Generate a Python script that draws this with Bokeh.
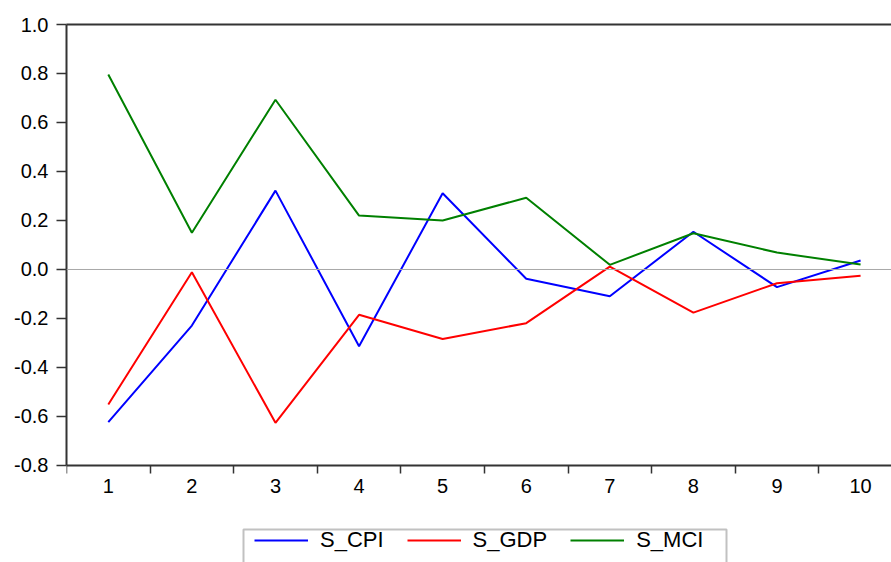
from bokeh.plotting import figure
from bokeh.models import (Range1d, FixedTicker, LinearAxis, Span, Legend, LegendItem,
                          CustomJSTickFormatter, BoxAnnotation)
from bokeh.embed import file_html
from bokeh.resources import INLINE

periods = [1, 2, 3, 4, 5, 6, 7, 8, 9, 10]
s_cpi = [-0.623, -0.229, 0.322, -0.313, 0.311, -0.038, -0.109, 0.154, -0.072, 0.037]
s_gdp = [-0.551, -0.011, -0.626, -0.185, -0.284, -0.219, 0.012, -0.176, -0.056, -0.026]
s_mci = [0.796, 0.150, 0.693, 0.220, 0.200, 0.293, 0.019, 0.148, 0.069, 0.020]
y_ticks = [-0.8, -0.6, -0.4, -0.2, 0.0, 0.2, 0.4, 0.6, 0.8, 1.0]
series_names = ["S_CPI", "S_GDP", "S_MCI"]
colors = ["#0000FF", "#FF0000", "#008000"]

FONT = "Liberation Sans"
AXIS_COLOR = "#333333"
Y_MIN, Y_MAX = -0.8, 1.0

p = figure(width=891, height=562, output_backend="svg", toolbar_location=None,
           x_range=Range1d(0.5, 10.37), y_range=Range1d(-1.196, Y_MAX),
           min_border_left=66, min_border_right=0, min_border_top=24,
           min_border_bottom=0, x_axis_location="below")
p.outline_line_color = None
p.background_fill_color = "white"
p.border_fill_color = "white"
p.xgrid.visible = False
p.ygrid.visible = False

# x axis, drawn at the bottom of the value range
xa = p.xaxis[0]
xa.fixed_location = Y_MIN
xa.ticker = FixedTicker(ticks=periods, minor_ticks=[x + 0.5 for x in [0] + periods])
xa.major_tick_out = 0
xa.major_tick_in = 0
xa.minor_tick_out = 8
xa.minor_tick_in = 0
xa.minor_tick_line_color = AXIS_COLOR
xa.minor_tick_line_width = 1.5
xa.axis_line_color = AXIS_COLOR
xa.axis_line_width = 2
xa.major_label_text_font = FONT
xa.major_label_text_font_size = "20px"
xa.major_label_text_color = "black"
xa.major_label_standoff = 6

# y axis
ya = p.yaxis[0]
ya.bounds = (Y_MIN, Y_MAX)
ya.ticker = FixedTicker(ticks=y_ticks)
ya.formatter = CustomJSTickFormatter(code="return tick.toFixed(1);")
ya.major_tick_out = 10
ya.major_tick_in = 0
ya.minor_tick_out = 0
ya.minor_tick_in = 0
ya.major_tick_line_color = AXIS_COLOR
ya.major_tick_line_width = 1.5
ya.axis_line_color = AXIS_COLOR
ya.axis_line_width = 2
ya.major_label_text_font = FONT
ya.major_label_text_font_size = "20px"
ya.major_label_text_color = "black"
ya.major_label_standoff = 8

# top border
top = LinearAxis(ticker=FixedTicker(ticks=[]), axis_line_color=AXIS_COLOR, axis_line_width=2,
                 major_tick_out=0, major_tick_in=0, minor_tick_out=0, minor_tick_in=0)
p.add_layout(top, "above")

# zero line
p.add_layout(Span(location=0.0, dimension="width", line_color="#a8a8a8", line_width=1))

renderers = []
for ys, c in zip([s_cpi, s_gdp, s_mci], colors):
    r = p.line(periods, ys, line_color=c, line_width=2)
    renderers.append(r)

# legend frame
p.add_layout(BoxAnnotation(left=243, right=726, top=529, bottom=620,
                           left_units="canvas", right_units="canvas",
                           top_units="canvas", bottom_units="canvas",
                           fill_color="white", fill_alpha=1.0,
                           line_color=AXIS_COLOR, line_width=2, level="overlay"))

legend = Legend(items=[LegendItem(label=n, renderers=[r]) for n, r in zip(series_names, renderers)],
                orientation="horizontal", location=(188, 9),
                label_text_font=FONT, label_text_font_size="22px", label_text_color="black",
                glyph_width=54, glyph_height=20, label_standoff=12, spacing=23,
                padding=3, margin=0, border_line_color=None,
                background_fill_alpha=0.0)
p.add_layout(legend, "center")

open("out.html", "w").write(file_html(p, INLINE))
